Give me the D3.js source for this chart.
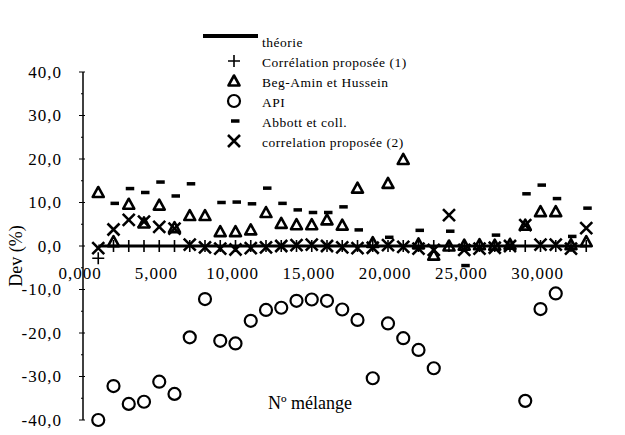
<!DOCTYPE html>
<html>
<head>
<meta charset="utf-8">
<script src="https://cdn.jsdelivr.net/npm/d3@7"></script>
<style>
  body { margin: 0; background: #fff; }
  text { font-family: 'Liberation Serif', 'Times New Roman', serif; fill: #000; }
</style>
</head>
<body>
<div id="chart"></div>
<script>
// N° mélange 1..33
var melanges = d3.range(1, 34);
var theorie = melanges.map(function() { return 0; });
var correlation1 = [-2.8, 0, 0, 0, 0, 0, 0, 0, 0, 0, 0, 0, 0, 0, 0, 0, 0, 0, 0, 0, 0, 0, 0, 0, 0, 0, 0, 0, 0, 0, 0, 0, 0];
var begAmin = [12.3, 1.0, 9.6, 5.3, 9.4, 4.2, 7.0, 7.0, 3.3, 3.3, 3.7, 7.7, 5.2, 4.9, 4.9, 6.0, 4.8, 13.3, 0.8, 14.4, 19.9, 0.5, -2.1, 0, 0.2, 0.3, 0.2, 0.4, 4.8, 7.9, 7.9, 0.3, 1.0];
var api = [-40.0, -32.2, -36.3, -35.8, -31.2, -34.0, -21.0, -12.2, -21.8, -22.4, -17.2, -14.7, -14.2, -12.6, -12.3, -12.6, -14.6, -17.0, -30.4, -17.8, -21.2, -23.9, -28.1, null, null, null, null, null, -35.6, -14.5, -10.9, null, null];
var abbott = [null, 9.8, 13.2, 12.3, 14.7, 11.5, 14.3, null, 10.0, 10.1, 9.7, 13.3, 9.8, 8.3, 7.7, 7.7, 9.0, 3.7, null, 2.0, null, 3.6, null, 3.4, -4.5, null, 2.5, null, 12.0, 14.0, 10.9, 2.2, 8.7];
var correlation2 = [-0.5, 3.8, 6.0, 5.6, 4.4, 4.0, 0.3, -0.3, -0.6, -0.8, -0.5, -0.3, 0, 0.2, 0.3, 0, -0.3, -0.5, -0.4, 0.2, -0.2, -0.6, -0.9, 7.1, -0.9, -0.6, -0.4, 0, 4.8, 0.3, 0.3, -0.6, 4.1];

var xTicks = [0, 5, 10, 15, 20, 25, 30];
var yTicks = [40, 30, 20, 10, 0, -10, -20, -30, -40];
var legendLabels = ['théorie', 'Corrélation proposée (1)', 'Beg-Amin et Hussein', 'API', 'Abbott et coll.', 'correlation proposée (2)'];

function drawChart() {
  var width = 625, height = 435;
  var svg = d3.select('#chart').append('svg')
    .attr('width', width)
    .attr('height', height);

  var xScale = d3.scaleLinear().domain([0, 35]).range([83, 83 + 35 * 15.25]);
  var yScale = d3.scaleLinear().domain([-40, 40]).range([420, 72]);
  var fr = function(f) { return function(v) { return d3.format(f)(v).replace('.', ',').replace('−', '-'); }; };

  // y axis
  var yAxis = svg.append('g');
  yAxis.append('line')
    .attr('x1', xScale(0)).attr('x2', xScale(0))
    .attr('y1', yScale(40)).attr('y2', yScale(-40))
    .attr('stroke', '#000').attr('stroke-width', 1.5);
  yAxis.selectAll('.tick').data(yTicks).enter().append('line')
    .attr('x1', xScale(0) - 4).attr('x2', xScale(0) + 2)
    .attr('y1', function(d) { return yScale(d); })
    .attr('y2', function(d) { return yScale(d); })
    .attr('stroke', '#000').attr('stroke-width', 1);
  yAxis.selectAll('.minor').data(d3.range(-35, 40, 5).filter(function(d) { return d % 10 !== 0; })).enter().append('line')
    .attr('x1', xScale(0) - 2).attr('x2', xScale(0))
    .attr('y1', function(d) { return yScale(d); })
    .attr('y2', function(d) { return yScale(d); })
    .attr('stroke', '#000').attr('stroke-width', 1);
  yAxis.selectAll('.lbl').data(yTicks).enter().append('text')
    .attr('x', 62)
    .attr('y', function(d) { return yScale(d); })
    .attr('dy', '0.35em')
    .attr('text-anchor', 'end')
    .style('font-size', '17px')
    .style('letter-spacing', '1px')
    .text(fr('.1f'));

  // x tick labels
  svg.append('g').selectAll('text').data(xTicks).enter().append('text')
    .attr('x', function(d) { return xScale(d) - 3; })
    .attr('y', yScale(0) + 27)
    .attr('dy', '0.35em')
    .attr('text-anchor', 'middle')
    .style('font-size', '17px')
    .style('letter-spacing', '1px')
    .text(fr('.3f'));

  // axis titles
  svg.append('text')
    .attr('transform', 'translate(22,256) rotate(-90)')
    .attr('text-anchor', 'middle')
    .style('font-size', '18px')
    .text('Dev (%)');
  svg.append('text')
    .attr('x', 310).attr('y', 409)
    .attr('text-anchor', 'middle')
    .style('font-size', '18px')
    .text('Nº mélange');

  var pts = function(arr) {
    return melanges.map(function(m, i) { return { m: m, v: arr[i] }; })
      .filter(function(d) { return d.v !== null; });
  };

  // théorie line
  var line = d3.line()
    .x(function(d) { return xScale(d.m); })
    .y(function(d) { return yScale(d.v); });
  svg.append('path')
    .datum(pts(theorie))
    .attr('d', line)
    .attr('fill', 'none')
    .attr('stroke', '#000')
    .attr('stroke-width', 3);

  var symbols = [
    { data: correlation1, draw: drawPlus },
    { data: begAmin, draw: drawTriangle },
    { data: api, draw: drawCircle },
    { data: abbott, draw: drawDash },
    { data: correlation2, draw: drawCross }
  ];

  symbols.forEach(function(s) {
    var g = svg.append('g');
    pts(s.data).forEach(function(d) {
      s.draw(g, xScale(d.m), yScale(d.v));
    });
  });

  // legend
  var legend = svg.append('g');
  legend.append('line')
    .attr('x1', 203).attr('x2', 258)
    .attr('y1', 36).attr('y2', 36)
    .attr('stroke', '#000').attr('stroke-width', 4);
  legendLabels.forEach(function(l, i) {
    var ly = 42 + i * 20;
    if (i > 0) symbols[i - 1].draw(legend, 234, ly - 1);
    legend.append('text')
      .attr('x', 262).attr('y', ly)
      .attr('dy', '0.35em')
      .style('font-size', '13.5px')
      .style('letter-spacing', '0.5px')
      .text(l);
  });
}

function drawPlus(g, x, y) {
  g.append('path')
    .attr('d', 'M' + (x - 6) + ',' + y + 'H' + (x + 6) + 'M' + x + ',' + (y - 6) + 'V' + (y + 6))
    .attr('stroke', '#000').attr('stroke-width', 1.6).attr('fill', 'none');
}
function drawTriangle(g, x, y) {
  g.append('path')
    .attr('d', 'M' + x + ',' + (y - 5.5) + 'L' + (x + 5.5) + ',' + (y + 4.5) + 'L' + (x - 5.5) + ',' + (y + 4.5) + 'Z')
    .attr('stroke', '#000').attr('stroke-width', 2.6).attr('stroke-linejoin', 'round').attr('fill', 'none');
}
function drawCircle(g, x, y) {
  g.append('circle')
    .attr('cx', x).attr('cy', y).attr('r', 6)
    .attr('stroke', '#000').attr('stroke-width', 2.2).attr('fill', 'none');
}
function drawDash(g, x, y) {
  g.append('rect')
    .attr('x', x - 3).attr('y', y - 1.75)
    .attr('width', 8.5).attr('height', 3.5)
    .attr('fill', '#000');
}
function drawCross(g, x, y) {
  g.append('path')
    .attr('d', 'M' + (x - 6) + ',' + (y - 6) + 'L' + (x + 6) + ',' + (y + 6) + 'M' + (x + 6) + ',' + (y - 6) + 'L' + (x - 6) + ',' + (y + 6))
    .attr('stroke', '#000').attr('stroke-width', 2.6).attr('fill', 'none');
}

drawChart();
</script>
</body>
</html>
